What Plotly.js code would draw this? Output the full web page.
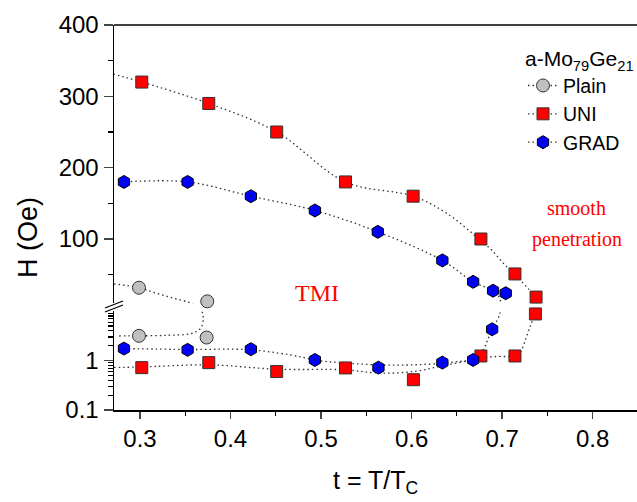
<!DOCTYPE html>
<html>
<head>
<meta charset="utf-8">
<script src="https://cdn.plot.ly/plotly-3.0.1.min.js"></script>
<style>html,body{margin:0;padding:0;background:#fff;}#chart{width:637px;height:502px;}</style>
</head>
<body>
<div id="chart"></div>
<script>
// ---- data (t = T/Tc, H in Oe) ----
const plainT = [0.2989, 0.3743, 0.2989, 0.3736];
const plainH = [31.7, 12.6, 3.17, 2.93];

const uniT = [0.302, 0.376, 0.451, 0.527, 0.602, 0.6766, 0.7142, 0.7368, 0.7375, 0.7142, 0.6766, 0.6017, 0.527, 0.451, 0.376, 0.302];
const uniH = [0.72, 0.91, 0.60, 0.71, 0.41, 1.24, 1.24, 8.8, 18.6, 51, 100, 160, 180, 250, 290, 320];

const gradT = [0.2823, 0.3526, 0.4225, 0.4932, 0.5634, 0.634, 0.668, 0.689, 0.704, 0.690, 0.668, 0.634, 0.5627, 0.4932, 0.4225, 0.3526, 0.2823];
const gradH = [1.75, 1.65, 1.70, 1.03, 0.72, 0.91, 1.03, 4.3, 24, 27.5, 40, 70, 110, 140, 160, 180, 180];

// guide-to-the-eye dotted curves (lower = log part, upper = linear part)
const plainGuideLowT = [0.277, 0.2989, 0.33, 0.3552, 0.3644, 0.3681, 0.3699, 0.3681];
const plainGuideLowH = [3.15, 3.17, 3.25, 3.48, 4.06, 4.9, 7.2, 10.7];
const plainGuideUpT = [0.2713, 0.2989, 0.318, 0.337, 0.3552, 0.3681];
const plainGuideUpH = [37, 31.7, 24, 17, 10.6, 0.4];

const uniGuideLowT = [0.2713, 0.30, 0.376, 0.451, 0.527, 0.563, 0.602, 0.634, 0.668, 0.69, 0.713, 0.7194, 0.727, 0.7324, 0.7368, 0.7385];
const uniGuideLowH = [0.73, 0.74, 0.82, 0.67, 0.65, 0.56, 0.60, 0.78, 1.03, 1.2, 1.24, 1.41, 3.07, 5.7, 8.8, 14];
const uniGuideUpT = [0.7375, 0.7385, 0.7302, 0.714, 0.7013, 0.6884, 0.6766, 0.6388, 0.6017, 0.527, 0.451, 0.376, 0.302, 0.2713];
const uniGuideUpH = [2, 16.8, 28.5, 50.5, 66, 84.5, 97.6, 136, 160, 180, 250, 290, 320, 331];

const gradGuideLowT = [0.2823, 0.3526, 0.4225, 0.4767, 0.4932, 0.5634, 0.602, 0.634, 0.655, 0.668, 0.6753, 0.681, 0.684, 0.689, 0.6945, 0.6976, 0.6985];
const gradGuideLowH = [1.75, 1.68, 1.65, 1.2, 1.02, 0.82, 0.82, 0.88, 0.97, 1.03, 1.3, 1.92, 2.63, 4.3, 6.5, 9, 12];
const gradGuideUpT = [0.699, 0.6985, 0.696, 0.690, 0.668, 0.634, 0.5627, 0.4932, 0.4225, 0.3526, 0.2823];
const gradGuideUpH = [0, 12, 20, 27.5, 40, 70, 110, 140, 160, 180, 180];

const xTickVals = [0.3, 0.4, 0.5, 0.6, 0.7, 0.8];
const yLowTickVals = [0.1, 1];
const yLowTickText = ['0.1', '1'];
const yUpTickVals = [100, 200, 300, 400];

// ---- styles ----
const BREAK = 10;
const FONT = 'Liberation Sans, Arial, sans-serif';
const SERIF = 'Liberation Serif, Times New Roman, serif';
const guideLine = {color: '#333', width: 1.3, dash: '1.5px,3px', shape: 'spline', smoothing: 1};

const series = [
  {name: 'Plain', t: plainT, h: plainH, marker: {symbol: 'circle', size: 13, color: '#c0c0c0', line: {color: '#333', width: 1}}},
  {name: 'UNI', t: uniT, h: uniH, marker: {symbol: 'square', size: 12, color: '#ff0000', line: {color: '#333', width: 1}}},
  {name: 'GRAD', t: gradT, h: gradH, marker: {symbol: 'hexagon-dot', size: 13, color: '#0000ff', line: {color: '#000', width: 1}}}
];
const guides = [
  [plainGuideLowT, plainGuideLowH, 'y'], [plainGuideUpT, plainGuideUpH, 'y2'],
  [uniGuideLowT, uniGuideLowH, 'y'], [uniGuideUpT, uniGuideUpH, 'y2'],
  [gradGuideLowT, gradGuideLowH, 'y'], [gradGuideUpT, gradGuideUpH, 'y2']
];

const traces = [];
guides.forEach(g => traces.push({x: g[0], y: g[1], yaxis: g[2], xaxis: 'x', mode: 'lines', line: guideLine, showlegend: false, hoverinfo: 'skip'}));
series.forEach(s => {
  const lo = s.t.map((t, i) => i).filter(i => s.h[i] < BREAK);
  const up = s.t.map((t, i) => i).filter(i => s.h[i] >= BREAK);
  traces.push({x: lo.map(i => s.t[i]), y: lo.map(i => s.h[i]), xaxis: 'x', yaxis: 'y', mode: 'markers', marker: s.marker, showlegend: false, cliponaxis: false});
  traces.push({x: up.map(i => s.t[i]), y: up.map(i => s.h[i]), xaxis: 'x', yaxis: 'y2', mode: 'markers', marker: s.marker, showlegend: false, cliponaxis: false});
});
series.forEach(s => traces.push({x: [null], y: [null], xaxis: 'x', yaxis: 'y2', name: s.name, mode: 'lines+markers',
  line: {color: '#333', width: 1.3, dash: '1.5px,3px'}, marker: s.marker, showlegend: true}));

const px = v => (v - 114) / 523;
const py = v => (410 - v) / 385;

const layout = {
  width: 637, height: 502,
  margin: {l: 114, r: 0, t: 25, b: 92},
  paper_bgcolor: '#fff', plot_bgcolor: '#fff',
  font: {family: FONT, color: '#000'},
  showlegend: true,
  xaxis: {
    range: [0.2713, 0.849], tickvals: xTickVals, ticks: 'outside', ticklen: 7, tickwidth: 1.5,
    showline: true, linewidth: 1.5, linecolor: '#000', showgrid: false, zeroline: false,
    tickfont: {size: 24, family: FONT}, anchor: 'y',
    minor: {tickvals: [0.35, 0.45, 0.55, 0.65, 0.75, 0.85], ticks: 'outside', ticklen: 4, tickwidth: 1.2, tickcolor: '#000'}
  },
  yaxis: {
    type: 'log', domain: [0, 0.256], range: [-1, 0.995], tickvals: yLowTickVals, ticktext: yLowTickText,
    ticks: 'outside', ticklen: 9, tickwidth: 1.5, showline: true, linewidth: 1.5, linecolor: '#000',
    showgrid: false, zeroline: false, tickfont: {size: 24, family: FONT}, anchor: 'x',
    minor: {tickvals: [0.2, 0.3, 0.4, 0.5, 0.6, 0.7, 0.8, 0.9, 2, 3, 4, 5, 6, 7, 8, 9], ticks: 'outside', ticklen: 5, tickwidth: 1.2, tickcolor: '#000'}
  },
  yaxis2: {
    domain: [0.2774, 1], range: [10, 400], tickvals: yUpTickVals,
    ticks: 'outside', ticklen: 9, tickwidth: 1.5, showline: true, linewidth: 1.5, linecolor: '#000',
    showgrid: false, zeroline: false, tickfont: {size: 24, family: FONT}, anchor: 'x',
    minor: {tickvals: [50, 150, 250, 350], ticks: 'outside', ticklen: 5, tickwidth: 1.2, tickcolor: '#000'}
  },
  legend: {
    x: px(523), y: py(39), xanchor: 'left', yanchor: 'top', bgcolor: 'rgba(0,0,0,0)',
    font: {size: 19.5, family: FONT}, tracegroupgap: 0,
    title: {text: 'a-Mo<sub>79</sub>Ge<sub>21</sub>', font: {size: 21, family: FONT}}
  },
  shapes: [
    {type: 'line', xref: 'paper', yref: 'paper', x0: 0, x1: 1, y0: 1, y1: 1, line: {color: '#000', width: 1.5}},
    {type: 'line', xref: 'paper', yref: 'paper', x0: px(105), x1: px(123), y0: py(308), y1: py(301), line: {color: '#000', width: 1.3}},
    {type: 'line', xref: 'paper', yref: 'paper', x0: px(105), x1: px(123), y0: py(312), y1: py(305), line: {color: '#000', width: 1.3}}
  ],
  annotations: [
    {text: 'H (Oe)', xref: 'paper', yref: 'paper', x: px(28), y: py(238), textangle: -90, showarrow: false,
     xanchor: 'center', yanchor: 'middle', font: {size: 27, family: FONT}},
    {text: 't = T/T<sub>C</sub>', xref: 'paper', yref: 'paper', x: 0.5, y: py(482), showarrow: false,
     xanchor: 'center', yanchor: 'middle', font: {size: 25, family: FONT}},
    {text: 'TMI', xref: 'x', yref: 'y2', x: 0.495, y: 24, showarrow: false, font: {size: 24, family: SERIF, color: '#ff0000'}},
    {text: 'smooth', xref: 'x', yref: 'y2', x: 0.7823, y: 143, showarrow: false, font: {size: 20, family: SERIF, color: '#ff0000'}},
    {text: 'penetration', xref: 'x', yref: 'y2', x: 0.7823, y: 100, showarrow: false, font: {size: 20, family: SERIF, color: '#ff0000'}}
  ]
};

Plotly.newPlot('chart', traces, layout, {displayModeBar: false, staticPlot: true});
</script>
</body>
</html>
